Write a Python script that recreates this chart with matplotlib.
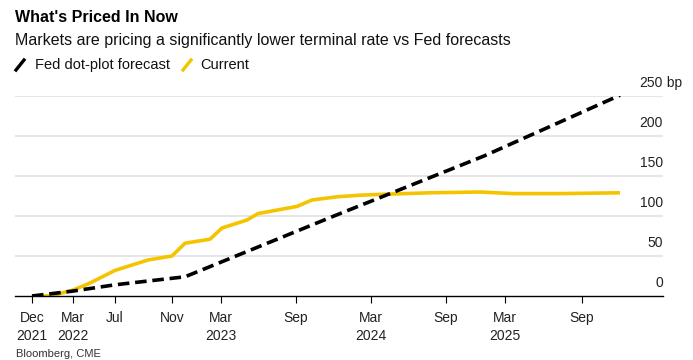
import matplotlib
matplotlib.use("Agg")
import matplotlib.pyplot as plt
from matplotlib.lines import Line2D

plt.rcParams["font.family"] = ["Liberation Sans", "DejaVu Sans"]

# x positions are in "months since Dec 2021" as spaced on the reference axis
tick_pos = [0, 3.3, 6.6, 11.2, 15.1, 21.1, 27.1, 33.1, 37.8, 44.0]
tick_labels = ["Dec\n2021", "Mar\n2022", "Jul", "Nov", "Mar\n2023", "Sep",
               "Mar\n2024", "Sep", "Mar\n2025", "Sep"]

# Fed dot-plot forecast (bp of cumulative hikes)
fed_x = [0, 3.2, 6.64, 12.24, 24.16, 36.16, 47.04]
fed_bp = [0, 6, 14, 24, 100, 175, 251]

# Current market pricing (bp)
cur_x = [0, 1.44, 3.2, 4.48, 6.64, 9.28, 11.2, 12.24, 14.24, 15.2, 17.2, 18.08,
         21.2, 22.4, 24.4, 26.24, 27.84, 31.84, 35.84, 38.48, 42.24, 47.04]
cur_bp = [0, 0, 7, 15, 32, 45, 50, 66, 71, 85, 95, 103,
          112, 120, 124, 126, 127, 129, 130, 128, 128, 129]

y_ticks = [0, 50, 100, 150, 200, 250]

YELLOW = "#f5c400"
W, H = 693, 360

fig = plt.figure(figsize=(W / 100, H / 100), dpi=100)
ax = fig.add_axes([15 / W, 1 - 296 / H, (663 - 15) / W, 200 / H])

for v in y_ticks[1:]:
    ax.axhline(v, color="#e6e6e6", lw=1.4, zorder=1)

ax.plot(cur_x, cur_bp, color=YELLOW, lw=2.6, zorder=3, solid_capstyle="butt")
ax.plot(fed_x, fed_bp, color="black", lw=2.6, dashes=(3.2, 1.6), zorder=4)

ax.set_xlim(-1.36, 50.48)
ax.set_ylim(0, 250)

for s in ["top", "right", "left"]:
    ax.spines[s].set_visible(False)
ax.spines["bottom"].set_linewidth(1.0)
ax.spines["bottom"].set_zorder(5)
ax.set_yticks([])
ax.set_xticks(tick_pos)
ax.set_xticklabels(tick_labels, fontsize=10, color="#222222", linespacing=1.3)
ax.tick_params(axis="x", length=5, width=0.8, pad=6)

# y labels sit above their gridlines at the right edge
for v in y_ticks:
    ax.annotate(str(v), xy=(1, v), xycoords=("axes fraction", "data"),
                xytext=(0, 4), textcoords="offset points",
                ha="right", va="bottom", fontsize=10, color="#222222",
                annotation_clip=False)
ax.annotate(" bp", xy=(1, 250), xycoords=("axes fraction", "data"),
            xytext=(0, 4), textcoords="offset points",
            ha="left", va="bottom", fontsize=10, color="#222222",
            annotation_clip=False)

# header
fig.text(15 / W, 1 - 17 / H, "What's Priced In Now", fontsize=11.5,
         fontweight="bold", va="center", ha="left")
fig.text(15 / W, 1 - 41 / H,
         "Markets are pricing a significantly lower terminal rate vs Fed forecasts",
         fontsize=11.5, va="center", ha="left", color="#111111")

# legend
fig.add_artist(Line2D([16 / W, 24 / W], [1 - 70 / H, 1 - 60 / H],
                      color="black", lw=2.4, transform=fig.transFigure))
fig.text(35 / W, 1 - 65 / H, "Fed dot-plot forecast", fontsize=10.5,
         va="center", ha="left", color="#111111")
fig.add_artist(Line2D([183 / W, 191 / W], [1 - 70 / H, 1 - 60 / H],
                      color=YELLOW, lw=2.4, transform=fig.transFigure))
fig.text(200 / W, 1 - 65 / H, "Current", fontsize=10.5,
         va="center", ha="left", color="#111111")

# source line at the very bottom
fig.text(16 / W, 1 / H, "Bloomberg, CME", fontsize=8,
         va="bottom", ha="left", color="#333333")

fig.savefig("out.png", dpi=100, facecolor="white")
